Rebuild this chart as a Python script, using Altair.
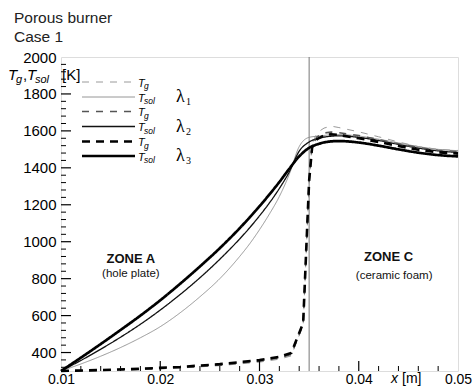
import altair as alt
import pandas as pd

# ---------------- data ----------------
x_sol = [0.010, 0.012, 0.014, 0.016, 0.018, 0.020, 0.022, 0.024, 0.026, 0.028,
         0.029, 0.030, 0.031, 0.032, 0.033, 0.034, 0.035, 0.036, 0.037, 0.038,
         0.040, 0.042, 0.044, 0.046, 0.048, 0.050]
Tsol_l1 = [300, 338, 380, 427, 480, 540, 615, 702, 800, 920,
           988, 1065, 1150, 1245, 1365, 1515, 1565, 1572, 1578, 1580,
           1572, 1555, 1535, 1515, 1500, 1493]
Tsol_l2 = [300, 357, 418, 483, 553, 630, 714, 805, 905, 1015,
           1075, 1140, 1210, 1288, 1378, 1490, 1540, 1560, 1570, 1573,
           1565, 1548, 1527, 1507, 1492, 1483]
Tsol_l3 = [300, 372, 446, 522, 600, 683, 772, 866, 965, 1073,
           1131, 1192, 1256, 1323, 1395, 1462, 1508, 1530, 1542, 1545,
           1537, 1520, 1500, 1482, 1469, 1462]

x_gas = [0.010, 0.014, 0.018, 0.022, 0.026, 0.030, 0.032, 0.0332, 0.0344, 0.0350,
         0.0353, 0.0358, 0.0365, 0.0372, 0.038, 0.040, 0.042, 0.044, 0.046, 0.048, 0.050]
Tg_l1 = [300, 303, 308, 316, 329, 348, 364, 382, 548, 1320,
         1530, 1590, 1615, 1626, 1618, 1595, 1568, 1540, 1515, 1500, 1494]
Tg_l2 = [300, 304, 310, 319, 333, 354, 371, 390, 553, 1325,
         1520, 1568, 1588, 1594, 1590, 1575, 1553, 1530, 1510, 1495, 1488]
Tg_l3 = [300, 305, 312, 322, 337, 359, 377, 398, 560, 1330,
         1510, 1555, 1575, 1582, 1578, 1560, 1540, 1518, 1498, 1484, 1477]

x_tick_labels = [0.01, 0.02, 0.03, 0.04, 0.05]
y_tick_labels = [400, 600, 800, 1000, 1200, 1400, 1600, 1800, 2000]
y_minor = [v for v in range(320, 2000, 40) if v % 200 != 0]
x_minor = [round(0.01 + 0.002 * i, 3) for i in range(1, 20) if i % 5 != 0]
x_major_inner = [0.02, 0.03, 0.04]

# ---------------- styles ----------------
W, H = 397, 314
FONT = "Liberation Sans"
SERIF = "Liberation Serif"

styles = {
    "l1_g":   dict(color="#9a9a9a", strokeWidth=1.0, strokeDash=[7, 7]),
    "l1_sol": dict(color="#8a8a8a", strokeWidth=0.9, strokeDash=[1, 0]),
    "l2_g":   dict(color="#555555", strokeWidth=1.6, strokeDash=[7, 7]),
    "l2_sol": dict(color="#111111", strokeWidth=1.3, strokeDash=[1, 0]),
    "l3_g":   dict(color="#000000", strokeWidth=2.6, strokeDash=[8, 6]),
    "l3_sol": dict(color="#000000", strokeWidth=2.7, strokeDash=[1, 0]),
}

xs = alt.Scale(domain=[0.01, 0.05], nice=False, zero=False)
ys = alt.Scale(domain=[300, 2000], nice=False, zero=False)

ax_x = alt.Axis(values=x_tick_labels, format=".2f", title=None, labelFontSize=14,
                labelFont=FONT, labelColor="black", labelPadding=1, ticks=False,
                domain=False, grid=False, labelFlush=False, labelOverlap=False)
ax_y = alt.Axis(values=y_tick_labels, format="d", title=None, labelFontSize=15,
                labelFont=FONT, labelColor="black", labelPadding=5, ticks=False,
                domain=False, grid=False, labelOverlap=False)


def X():
    return alt.X("x:Q", scale=xs, axis=ax_x)


def Y():
    return alt.Y("T:Q", scale=ys, axis=ax_y)


one = pd.DataFrame({"x": [0.01], "T": [300]})
layers = []

# axes carrier
layers.append(alt.Chart(one).mark_point(opacity=0).encode(x=X(), y=Y()))

# zone divider
layers.append(alt.Chart(pd.DataFrame({"x": [0.035]})).mark_rule(color="#777777", strokeWidth=1)
              .encode(x=X(), y=alt.value(0), y2=alt.value(H)))

# curves (thin first, thick last)
curve_data = [
    ("l1_sol", x_sol, Tsol_l1, "monotone"),
    ("l1_g", x_gas, Tg_l1, "linear"),
    ("l2_sol", x_sol, Tsol_l2, "monotone"),
    ("l2_g", x_gas, Tg_l2, "linear"),
    ("l3_sol", x_sol, Tsol_l3, "monotone"),
    ("l3_g", x_gas, Tg_l3, "linear"),
]
for key, xv, tv, interp in curve_data:
    df = pd.DataFrame({"x": xv, "T": tv})
    layers.append(alt.Chart(df).mark_line(interpolate=interp, **styles[key])
                  .encode(x=X(), y=Y()))

# ticks (inward)
layers.append(alt.Chart(pd.DataFrame({"T": y_tick_labels[:-1]})).mark_rule(color="black", strokeWidth=1.2)
              .encode(y=Y(), x=alt.value(0), x2=alt.value(10)))
layers.append(alt.Chart(pd.DataFrame({"T": y_minor})).mark_rule(color="black", strokeWidth=1)
              .encode(y=Y(), x=alt.value(0), x2=alt.value(5)))
layers.append(alt.Chart(pd.DataFrame({"x": x_major_inner})).mark_rule(color="black", strokeWidth=1.2)
              .encode(x=X(), y=alt.value(H), y2=alt.value(H - 10)))
layers.append(alt.Chart(pd.DataFrame({"x": x_minor})).mark_rule(color="black", strokeWidth=1)
              .encode(x=X(), y=alt.value(H), y2=alt.value(H - 5)))

# legend
legend_rows = ["l1_g", "l1_sol", "l2_g", "l2_sol", "l3_g", "l3_sol"]
row_y = [25, 40, 54.5, 69.5, 84.5, 99]
for key, ly in zip(legend_rows, row_y):
    layers.append(alt.Chart(one).mark_rule(**styles[key])
                  .encode(x=alt.value(21), x2=alt.value(74), y=alt.value(ly)))
    is_g = key.endswith("_g")
    layers.append(alt.Chart(one).mark_text(text="T", font=FONT, fontSize=11, fontStyle="italic",
                                           align="left", baseline="middle", color="black")
                  .encode(x=alt.value(77), y=alt.value(ly + 1.5)))
    layers.append(alt.Chart(one).mark_text(text="g" if is_g else "sol", font=FONT, fontSize=8.5,
                                           fontStyle="italic", align="left", baseline="middle",
                                           color="black")
                  .encode(x=alt.value(83), y=alt.value(ly + 4)))

for i, ly in enumerate([40, 69.5, 99]):
    layers.append(alt.Chart(one).mark_text(text="λ", font=SERIF, fontSize=18, align="left",
                                           baseline="middle", color="black")
                  .encode(x=alt.value(115), y=alt.value(ly)))
    layers.append(alt.Chart(one).mark_text(text=str(i + 1), font=SERIF, fontSize=10, align="left",
                                           baseline="middle", color="black")
                  .encode(x=alt.value(125), y=alt.value(ly + 5)))

# title
for txt, ty in [("Porous burner", -34), ("Case 1", -15)]:
    layers.append(alt.Chart(one).mark_text(text=txt, font=FONT, fontSize=15.5, align="left",
                                           baseline="alphabetic", color="#222222")
                  .encode(x=alt.value(-47), y=alt.value(ty)))

# y axis title: T_g, T_sol [K]
ytitle = [("T", -53, 23, 15, "italic"), ("g", -45, 26, 11, "italic"), (",", -38, 23, 15, "normal"),
          ("T", -34, 23, 15, "italic"), ("sol", -26, 26, 11, "italic"), ("[K]", 1, 23, 15, "normal")]
for txt, tx, ty, fs, st in ytitle:
    layers.append(alt.Chart(one).mark_text(text=txt, font=FONT, fontSize=fs, fontStyle=st,
                                           align="left", baseline="alphabetic", color="black")
                  .encode(x=alt.value(tx), y=alt.value(ty)))

# x axis title: x [m]
for txt, tx, st in [("x", 330, "italic"), ("[m]", 341, "normal")]:
    layers.append(alt.Chart(one).mark_text(text=txt, font=FONT, fontSize=14, fontStyle=st,
                                           align="left", baseline="alphabetic", color="black")
                  .encode(x=alt.value(tx), y=alt.value(H + 12)))

# zone labels
zones = pd.DataFrame({
    "x": [0.01704, 0.01704, 0.0430, 0.04357],
    "T": [905, 824, 916, 813],
    "label": ["ZONE A", "(hole plate)", "ZONE C", "(ceramic foam)"],
    "bold": ["bold", "normal", "bold", "normal"],
})
layers.append(alt.Chart(zones[zones.bold == "bold"]).mark_text(font=FONT, fontSize=13, fontWeight="bold",
                                                              baseline="middle", color="#111111")
              .encode(x=X(), y=Y(), text="label:N"))
layers.append(alt.Chart(zones[zones.bold == "normal"]).mark_text(font=FONT, fontSize=11.5,
                                                                baseline="middle", color="#111111")
              .encode(x=X(), y=Y(), text="label:N"))

chart = alt.layer(*layers).properties(
    width=W, height=H,
    padding={"left": 61, "top": 57, "right": 18, "bottom": 16},
    autosize=alt.AutoSizeParams(type="none"),
).configure_view(stroke="black", strokeWidth=2).configure(background="white")

chart.save("out.html", embed_options={"renderer": "svg", "actions": False})
